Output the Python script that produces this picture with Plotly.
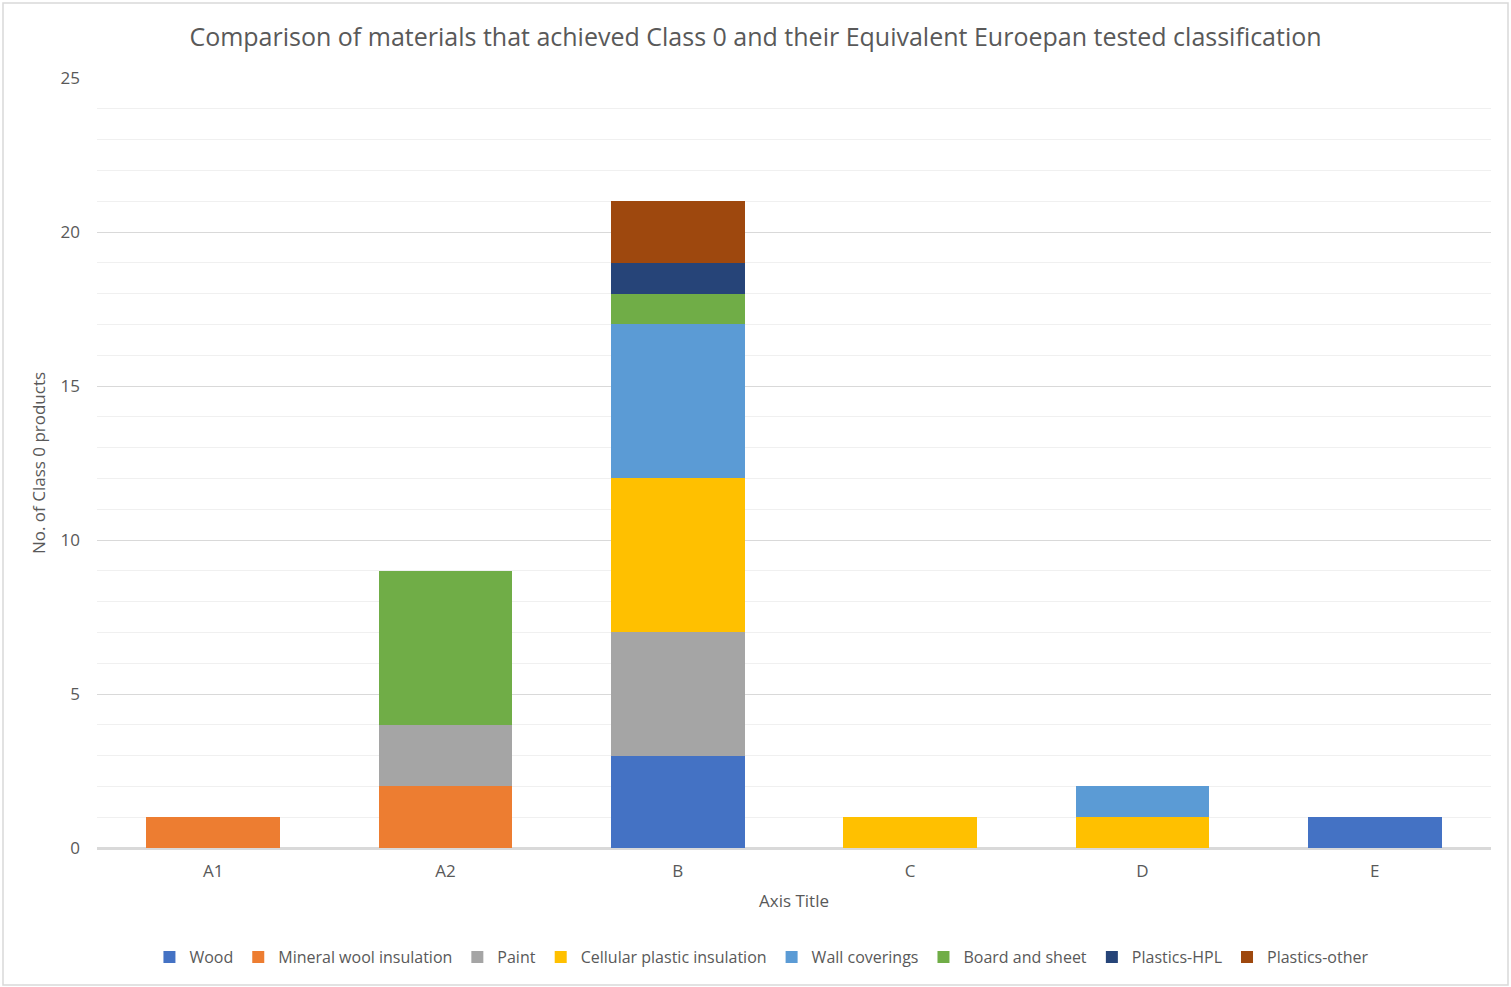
import plotly.graph_objects as go

categories = ["A1", "A2", "B", "C", "D", "E"]
series_names = ["Wood", "Mineral wool insulation", "Paint", "Cellular plastic insulation",
                "Wall coverings", "Board and sheet", "Plastics-HPL", "Plastics-other"]
wood = [0, 0, 3, 0, 0, 1]
mineral_wool = [1, 2, 0, 0, 0, 0]
paint = [0, 2, 4, 0, 0, 0]
cellular = [0, 0, 5, 1, 1, 0]
wall_coverings = [0, 0, 5, 0, 1, 0]
board_sheet = [0, 5, 1, 0, 0, 0]
plastics_hpl = [0, 0, 1, 0, 0, 0]
plastics_other = [0, 0, 2, 0, 0, 0]
y_ticks = [0, 5, 10, 15, 20, 25]

colors = ["#4472C4", "#ED7D31", "#A5A5A5", "#FFC000", "#5B9BD5", "#70AD47", "#264478", "#9E480E"]
values = [wood, mineral_wool, paint, cellular, wall_coverings, board_sheet, plastics_hpl, plastics_other]

FONT = "Open Sans"
TXT = "#595959"

W, H = 1511, 987
L, R, T, B = 97, 20, 78, 139
PW, PH = W - L - R, H - T - B

fig = go.Figure()
for name, vals, col in zip(series_names, values, colors):
    fig.add_trace(go.Bar(x=categories, y=vals, name=name, marker=dict(color=col, line=dict(width=0))))

fig.update_layout(
    barmode="stack",
    bargap=0.426,
    width=W, height=H,
    paper_bgcolor="white", plot_bgcolor="white",
    margin=dict(l=L, r=R, t=T, b=B),
    font=dict(family=FONT, color=TXT, size=16),
    title=dict(text="Comparison of materials that achieved Class 0 and their Equivalent Euroepan tested classification",
               x=0.5, xanchor="center", y=1 - 37 / H, yanchor="middle",
               font=dict(family=FONT, size=25, color=TXT)),
    xaxis=dict(title=dict(text="Axis Title", font=dict(size=17, color=TXT), standoff=14),
               automargin=False,
               showgrid=False, showline=True, linecolor="#d9d9d9", linewidth=1.5,
               ticks="", tickfont=dict(size=17, color=TXT), ticklabelstandoff=7),
    yaxis=dict(title=dict(text="No. of Class 0 products", font=dict(size=17, color=TXT), standoff=10),
               automargin=False,
               range=[0, 25], tickvals=y_ticks, showgrid=True, gridcolor="#d9d9d9", gridwidth=1.2,
               minor=dict(dtick=1, showgrid=True, gridcolor="#f0f0f0", gridwidth=1),
               zeroline=True, zerolinecolor="#d9d9d9", zerolinewidth=1.5,
               ticks="", tickfont=dict(size=17, color=TXT), ticklabelstandoff=16),
    legend=dict(orientation="h", x=0.477, xanchor="center", y=-(957 - 848) / PH, yanchor="middle",
                font=dict(size=16, color=TXT), traceorder="normal", itemwidth=30,
                bgcolor="rgba(0,0,0,0)"),
    shapes=[dict(type="rect", xref="paper", yref="paper",
                 x0=(3 - L) / PW, x1=(1508 - L) / PW,
                 y0=-(985 - 848) / PH, y1=(848 - 3) / PH,
                 line=dict(color="#d9d9d9", width=1.5), fillcolor="rgba(0,0,0,0)", layer="below")],
)

fig.write_html("out.html")
